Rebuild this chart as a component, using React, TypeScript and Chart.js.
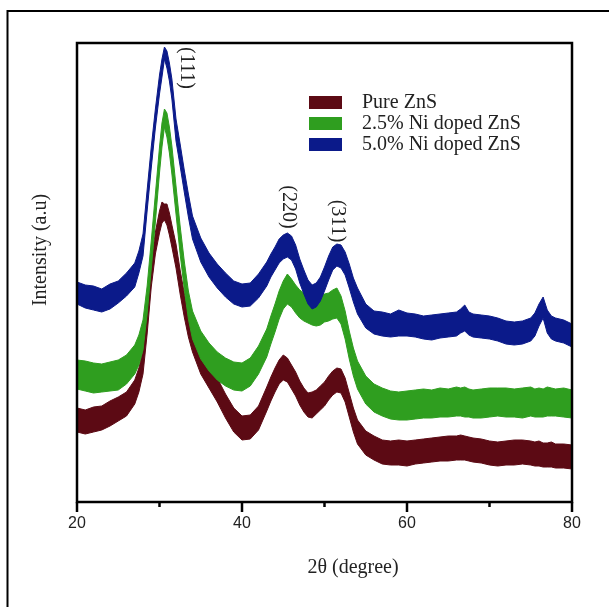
import React, { useEffect, useRef } from 'react';
import { Chart, registerables } from 'chart.js';

Chart.register(...registerables);

// 2θ positions (degree)
const twoTheta = [
  20, 21, 22, 23, 24, 25, 26, 27, 27.5, 28,
  28.5, 29, 29.5, 30, 30.3, 30.6, 30.9, 31.2, 31.5, 32,
  32.5, 33, 33.5, 34, 35, 36, 37, 38, 39, 40,
  41, 42, 43, 43.5, 44, 44.5, 45, 45.5, 46, 46.5,
  47, 47.5, 48, 48.5, 49, 49.5, 50, 50.5, 51, 51.5,
  52, 52.5, 53, 53.5, 54, 55, 56, 57, 58, 59,
  60, 61, 62, 63, 64, 65, 66, 66.5, 67, 67.5,
  68, 69, 70, 71, 72, 73, 74, 75, 75.5, 76,
  76.5, 77, 77.5, 78, 79, 80,
];

// Intensity (a.u.) – upper / lower edge of the noisy trace band
const ni50Upper = [
  220, 217, 216, 213, 218, 221, 229, 239, 251, 268,
  312, 355, 393, 427, 443, 455, 451, 439, 423, 383,
  358, 332, 308, 286, 264, 249, 238, 229, 221, 218,
  219, 228, 240, 248, 255, 263, 267, 269, 266, 257,
  243, 232, 222, 217, 219, 225, 235, 246, 255, 258,
  257, 250, 238, 224, 214, 198, 191, 190, 188, 192,
  189, 188, 186, 187, 188, 189, 190, 193, 197, 190,
  188, 187, 186, 184, 181, 180, 181, 184, 189, 198,
  205, 192, 186, 184, 182, 178,
];
const ni50Lower = [
  198, 194, 192, 190, 193, 199, 206, 215, 229, 246,
  291, 334, 374, 408, 425, 443, 434, 421, 403, 361,
  336, 310, 285, 263, 240, 225, 214, 205, 198, 195,
  196, 204, 216, 225, 232, 239, 243, 245, 242, 233,
  219, 208, 198, 193, 195, 201, 211, 222, 232, 236,
  234, 227, 214, 200, 188, 174, 168, 166, 165, 166,
  166, 165, 163, 162, 164, 165, 166, 169, 171, 167,
  165, 164, 163, 161, 158, 157, 158, 161, 166, 176,
  184, 169, 163, 161, 159, 155,
];
const ni25Upper = [
  142, 141, 139, 138, 140, 142, 147, 157, 167, 182,
  216, 261, 308, 355, 379, 393, 389, 375, 356, 316,
  276, 241, 211, 191, 171, 159, 150, 144, 140, 139,
  144, 156, 173, 186, 198, 211, 221, 228, 223, 217,
  212, 209, 207, 205, 206, 207, 208, 209, 212, 214,
  206, 191, 171, 154, 141, 126, 118, 114, 111, 110,
  111, 112, 113, 112, 114, 113, 115, 114, 115, 113,
  112, 113, 114, 114, 114, 113, 114, 115, 113, 114,
  113, 115, 114, 113, 114, 112,
];
const ni25Lower = [
  113, 111, 109, 110, 111, 112, 118, 128, 137, 152,
  188, 233, 280, 329, 355, 375, 365, 349, 328, 288,
  248, 213, 183, 163, 143, 131, 122, 116, 112, 111,
  116, 128, 145, 158, 170, 183, 193, 198, 195, 189,
  184, 181, 179, 177, 176, 177, 180, 181, 183, 184,
  178, 163, 143, 126, 113, 98, 90, 86, 83, 82,
  82, 83, 84, 84, 85, 85, 86, 86, 85, 85,
  84, 84, 85, 86, 85, 85, 84, 86, 85, 85,
  85, 86, 86, 86, 85, 84,
];
const pureUpper = [
  94, 92, 95, 96, 101, 105, 110, 122, 134, 152,
  192, 239, 270, 291, 300, 298, 298, 289, 277, 258,
  232, 209, 189, 174, 152, 138, 124, 108, 94, 86,
  87, 96, 115, 125, 134, 142, 147, 144, 137, 130,
  121, 114, 109, 110, 112, 116, 120, 126, 131, 134,
  133, 124, 109, 94, 82, 71, 66, 62, 61, 62,
  61, 62, 63, 64, 65, 66, 66, 67, 66, 65,
  64, 63, 61, 60, 61, 62, 62, 61, 60, 61,
  59, 59, 60, 58, 58, 57,
];
const pureLower = [
  70, 68, 70, 72, 76, 81, 86, 98, 110, 128,
  168, 215, 248, 269, 279, 282, 277, 267, 255, 234,
  208, 185, 165, 150, 128, 114, 100, 84, 70, 62,
  63, 72, 91, 101, 110, 118, 122, 120, 113, 106,
  97, 90, 85, 84, 88, 92, 96, 102, 107, 110,
  109, 100, 85, 70, 58, 47, 42, 38, 37, 37,
  36, 38, 39, 40, 41, 41, 42, 42, 42, 41,
  40, 39, 37, 36, 37, 37, 38, 37, 36, 36,
  35, 35, 35, 34, 34, 33,
];

const seriesLabels = ['Pure ZnS', '2.5% Ni doped ZnS', '5.0% Ni doped ZnS'];
const seriesColors = ['#5c0a14', '#2f9e1f', '#0b1a8a'];

const xMajorTicks = [20, 40, 60, 80];
const xMinorTicks = [30, 50, 70];

const peakLabels = ['(111)', '(220)', '(311)'];
const peakX = [33.3, 45.6, 51.6];
const peakY = [434, 295, 281];

const SERIF = "'Liberation Serif', 'Times New Roman', serif";
const SANS = "'Liberation Sans', Arial, sans-serif";

const pts = (ys: number[]) => twoTheta.map((x, i) => ({ x, y: ys[i] }));

const decorPlugin = {
  id: 'decor',
  afterDraw(chart: any) {
    const { ctx, chartArea: a, scales } = chart;
    const xs = scales.x;
    const ys = scales.y;
    ctx.save();
    ctx.strokeStyle = '#000';
    // outer frame (left + top)
    ctx.lineWidth = 2;
    ctx.beginPath();
    ctx.moveTo(7.5, 607);
    ctx.lineTo(7.5, 11);
    ctx.lineTo(609, 11);
    ctx.stroke();
    // plot frame
    ctx.lineWidth = 2.5;
    ctx.strokeRect(a.left, a.top, a.right - a.left, a.bottom - a.top);
    // ticks
    xMajorTicks.forEach((v) => {
      const px = xs.getPixelForValue(v);
      ctx.beginPath();
      ctx.moveTo(px, a.bottom);
      ctx.lineTo(px, a.bottom + 10);
      ctx.stroke();
    });
    xMinorTicks.forEach((v) => {
      const px = xs.getPixelForValue(v);
      ctx.beginPath();
      ctx.moveTo(px, a.bottom);
      ctx.lineTo(px, a.bottom + 5);
      ctx.stroke();
    });
    // peak labels
    ctx.fillStyle = '#222';
    ctx.font = `20px ${SERIF}`;
    ctx.textAlign = 'center';
    ctx.textBaseline = 'middle';
    peakLabels.forEach((t, i) => {
      ctx.save();
      ctx.translate(xs.getPixelForValue(peakX[i]), ys.getPixelForValue(peakY[i]));
      ctx.rotate(Math.PI / 2);
      ctx.fillText(t, 0, 0);
      ctx.restore();
    });
    // legend
    ctx.textAlign = 'left';
    seriesLabels.forEach((t, i) => {
      const cy = 102 + i * 21;
      ctx.fillStyle = seriesColors[i];
      ctx.fillRect(309, cy - 6, 33, 13);
      ctx.fillStyle = '#222';
      ctx.fillText(t, 362, cy + 1);
    });
    // axis titles
    ctx.textAlign = 'center';
    ctx.fillText('2θ (degree)', 353, 568);
    ctx.save();
    ctx.translate(41, 250);
    ctx.rotate(-Math.PI / 2);
    ctx.fillText('Intensity (a.u)', 0, 0);
    ctx.restore();
    ctx.restore();
  },
};

export default function App() {
  const ref = useRef<HTMLCanvasElement | null>(null);
  useEffect(() => {
    if (!ref.current) return;
    const bands = [
      [ni50Upper, ni50Lower, 2],
      [ni25Upper, ni25Lower, 1],
      [pureUpper, pureLower, 0],
    ] as [number[], number[], number][];
    const datasets: any[] = [];
    bands.forEach(([up, lo, ci]) => {
      datasets.push({
        label: seriesLabels[ci],
        data: pts(up),
        borderColor: seriesColors[ci],
        backgroundColor: seriesColors[ci],
        borderWidth: 1,
        pointRadius: 0,
        fill: '+1',
      });
      datasets.push({
        label: seriesLabels[ci] + ' lower',
        data: pts(lo),
        borderColor: seriesColors[ci],
        backgroundColor: seriesColors[ci],
        borderWidth: 1,
        pointRadius: 0,
        fill: false,
      });
    });
    const chart = new Chart(ref.current, {
      type: 'line',
      data: { datasets },
      options: {
        responsive: false,
        animation: false,
        devicePixelRatio: 1,
        layout: { padding: { left: 77, right: 37, top: 43, bottom: 75 } },
        plugins: { legend: { display: false }, tooltip: { enabled: false } },
        elements: { line: { tension: 0 } },
        scales: {
          x: {
            type: 'linear',
            min: 20,
            max: 80,
            afterBuildTicks: (s: any) => {
              s.ticks = xMajorTicks.map((v) => ({ value: v }));
            },
            afterFit: (s: any) => {
              s.height = 30;
            },
            grid: { display: false, drawTicks: false },
            border: { display: false },
            ticks: {
              padding: 12,
              color: '#222',
              font: { family: SANS, size: 16 },
              maxRotation: 0,
              autoSkip: false,
            },
          },
          y: { type: 'linear', display: false, min: 0, max: 459 },
        },
      },
      plugins: [decorPlugin],
    } as any);
    return () => chart.destroy();
  }, []);
  return (
    <div style={{ position: 'absolute', left: 0, top: 0, width: 609, height: 607, background: '#fff' }}>
      <canvas ref={ref} width={609} height={607} style={{ display: 'block' }} />
    </div>
  );
}
